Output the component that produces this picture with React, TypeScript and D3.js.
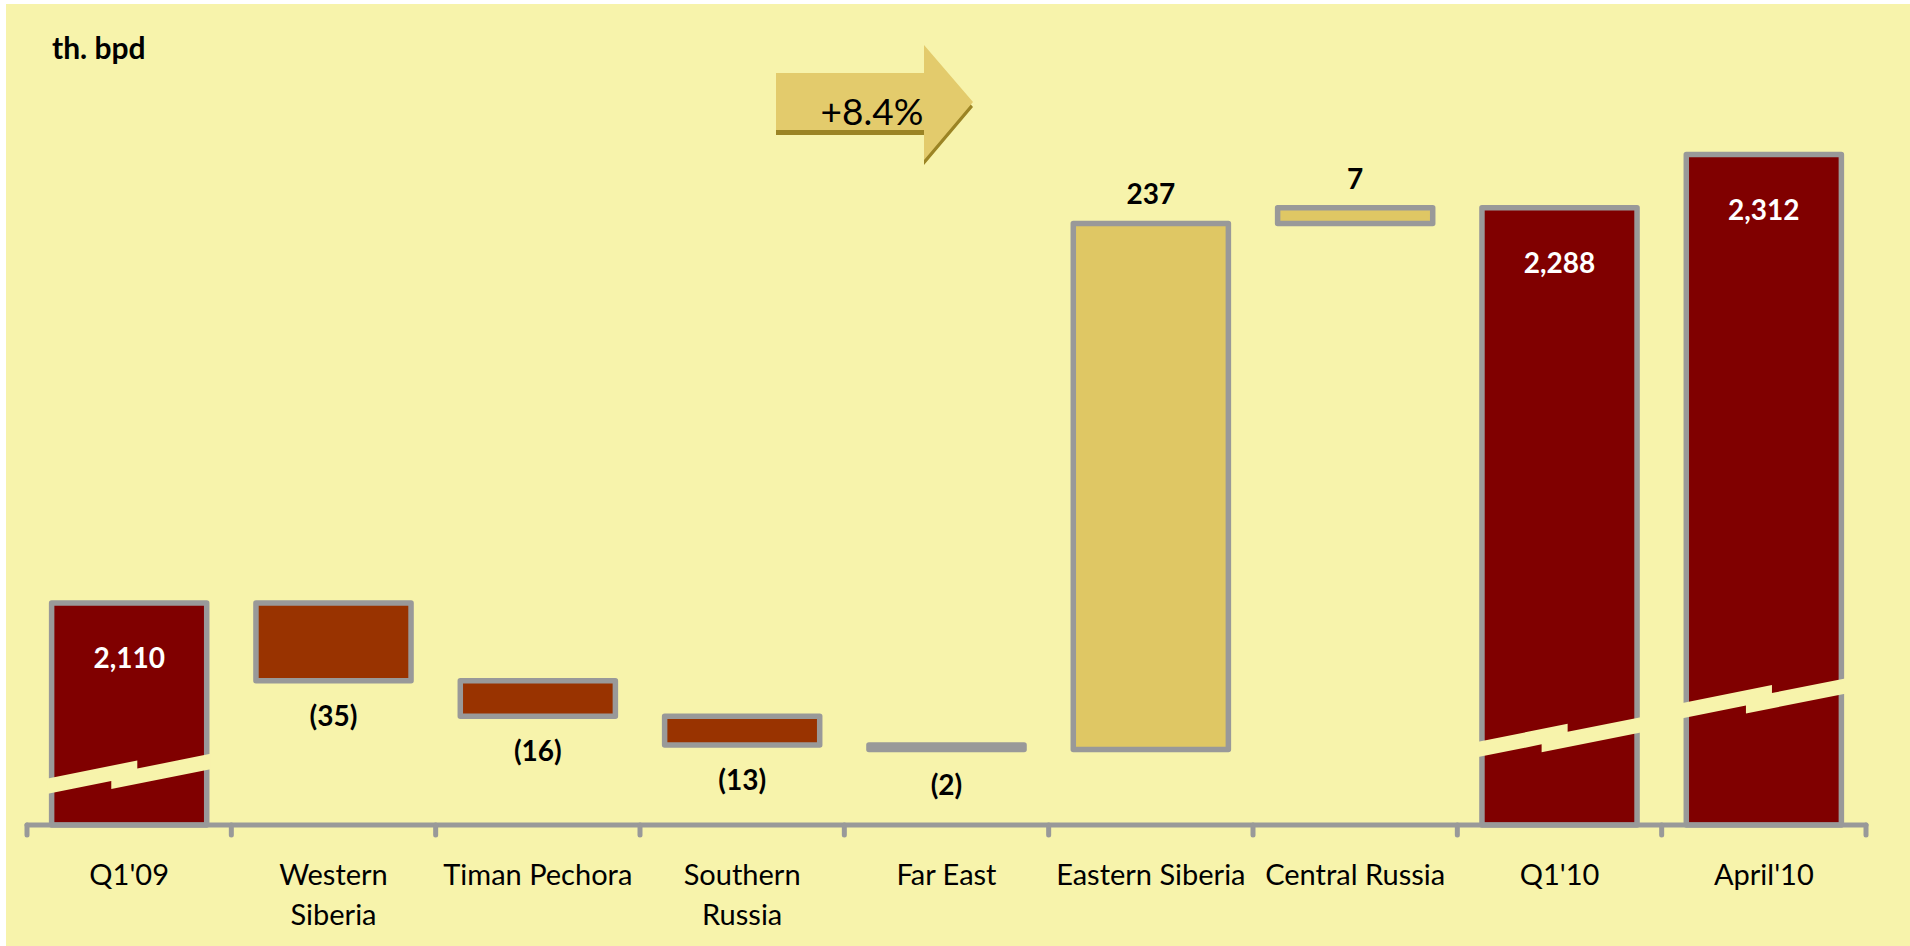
import React from "react";
import * as d3 from "d3";

// ---- data ----
const categories = [
  "Q1'09",
  "Western Siberia",
  "Timan Pechora",
  "Southern Russia",
  "Far East",
  "Eastern Siberia",
  "Central Russia",
  "Q1'10",
  "April'10",
];
const categoryLines = [
  ["Q1'09"],
  ["Western", "Siberia"],
  ["Timan Pechora"],
  ["Southern", "Russia"],
  ["Far East"],
  ["Eastern Siberia"],
  ["Central Russia"],
  ["Q1'10"],
  ["April'10"],
];
const values = [2110, -35, -16, -13, -2, 237, 7, 2288, 2312];
const kinds = ["total", "delta", "delta", "delta", "delta", "delta", "delta", "total", "total"];
const valueLabels = ["2,110", "(35)", "(16)", "(13)", "(2)", "237", "7", "2,288", "2,312"];
// value (in th. bpd) at which the axis-break mark is drawn on the total bars
const breakAt = [2031, null, null, null, null, null, null, 2047.5, 2065];
const yDomain = [2010, 2380];
const unitLabel = "th. bpd";
const growthLabel = "+8.4%";

// ---- styles ----
const W = 1910;
const H = 946;
const BG = "#F7F3AB";
const STROKE = "#999999";
const TOTAL = "#800000";
const NEG = "#993300";
const POS = "#DFC764";
const FONT = "Lato, 'Open Sans', sans-serif";

export default function App() {
  const x = d3
    .scaleBand<string>()
    .domain(categories)
    .range([27, 1866])
    .paddingInner(0.241)
    .paddingOuter(0.1205);
  const y = d3.scaleLinear().domain(yDomain).range([825, 3.6]);
  const bw = x.bandwidth();
  const sw = 5.5;

  // waterfall computation
  let running = 0;
  const bars = values.map((v, i) => {
    let lo: number, hi: number;
    if (kinds[i] === "total") {
      lo = yDomain[0];
      hi = v;
      running = v;
    } else {
      const start = running;
      running = running + v;
      lo = Math.min(start, running);
      hi = Math.max(start, running);
    }
    const fill = kinds[i] === "total" ? TOTAL : v < 0 ? NEG : POS;
    return { cat: categories[i], lo, hi, v, fill, kind: kinds[i], label: valueLabels[i], brk: breakAt[i] };
  });

  const breakPath = (x0: number, width: number, yc: number) => {
    const L = x0 - sw / 2 - 1;
    const Wd = width + sw + 2;
    const s = 0.2;
    const t = 15.3;
    const st = 8;
    const a = 0.55 * Wd;
    const b = 0.39 * Wd;
    const pts: [number, number][] = [
      [L, yc],
      [L + a, yc - s * a],
      [L + a, yc - s * a + st],
      [L + Wd, yc - s * Wd + st],
      [L + Wd, yc - s * Wd + st + t],
      [L + b, yc + t - s * b + st],
      [L + b, yc + t - s * b],
      [L, yc + t],
    ];
    return d3.line()(pts.concat([pts[0]])) as string;
  };

  // growth arrow
  const arrowPts: [number, number][] = [
    [776, 73],
    [924, 73],
    [924, 45],
    [973, 102],
    [924, 160],
    [924, 130],
    [776, 130],
  ];
  const arrowPath = d3.line()(arrowPts.concat([arrowPts[0]])) as string;

  const axisY = y(yDomain[0]);
  const tickXs = categories.map((c) => (x(c) as number) - (x.step() * x.paddingInner()) / 2);
  tickXs.push(1866);

  return (
    <svg
      width={W}
      height={H}
      style={{ position: "absolute", left: 0, top: 0, display: "block" }}
      fontFamily={FONT}
    >
      <rect x={0} y={0} width={W} height={H} fill="#ffffff" />
      <rect x={6} y={4} width={W - 6} height={H - 4} fill={BG} />

      <text x={52} y={47} fontSize={30} fontWeight={700} fill="#000" dominantBaseline="central">
        {unitLabel}
      </text>

      {/* growth arrow */}
      <path d={arrowPath} fill="#9B8424" transform="translate(0,5)" />
      <path d={arrowPath} fill="#E3CB6C" />
      <text x={872} y={110} fontSize={37} textAnchor="middle" dominantBaseline="central" fill="#000">
        {growthLabel}
      </text>

      {/* bars */}
      {bars.map((b, i) => {
        const x0 = x(b.cat) as number;
        const yTop = y(b.hi);
        const yBot = y(b.lo);
        return (
          <g key={i}>
            <rect
              x={x0}
              y={yTop}
              width={bw}
              height={Math.max(0.5, yBot - yTop)}
              fill={b.fill}
              stroke={STROKE}
              strokeWidth={sw}
              strokeLinejoin="round"
            />
            {b.brk != null && <path d={breakPath(x0, bw, y(b.brk))} fill={BG} />}
          </g>
        );
      })}

      {/* axis */}
      <line x1={27} x2={1866} y1={axisY} y2={axisY} stroke={STROKE} strokeWidth={5} strokeLinecap="round" />
      {tickXs.map((tx, i) => (
        <line key={i} x1={tx} x2={tx} y1={axisY} y2={axisY + 10} stroke={STROKE} strokeWidth={5} strokeLinecap="round" />
      ))}

      {/* value labels */}
      {bars.map((b, i) => {
        const cx = (x(b.cat) as number) + bw / 2;
        if (b.kind === "total") {
          return (
            <text key={i} x={cx} y={y(b.hi) + 54} fontSize={28} fontWeight={700} fill="#fff" textAnchor="middle" dominantBaseline="central">
              {b.label}
            </text>
          );
        }
        const ly = b.v < 0 ? y(b.lo) + 34 : y(b.hi) - 30;
        return (
          <text key={i} x={cx} y={ly} fontSize={28} fontWeight={700} fill="#000" textAnchor="middle" dominantBaseline="central">
            {b.label}
          </text>
        );
      })}

      {/* category labels */}
      {categories.map((c, i) => {
        const cx = (x(c) as number) + bw / 2;
        return (
          <text key={i} x={cx} textAnchor="middle" fontSize={29} fill="#000">
            {categoryLines[i].map((ln, j) => (
              <tspan key={j} x={cx} y={873 + j * 40} dominantBaseline="central">
                {ln}
              </tspan>
            ))}
          </text>
        );
      })}
    </svg>
  );
}
